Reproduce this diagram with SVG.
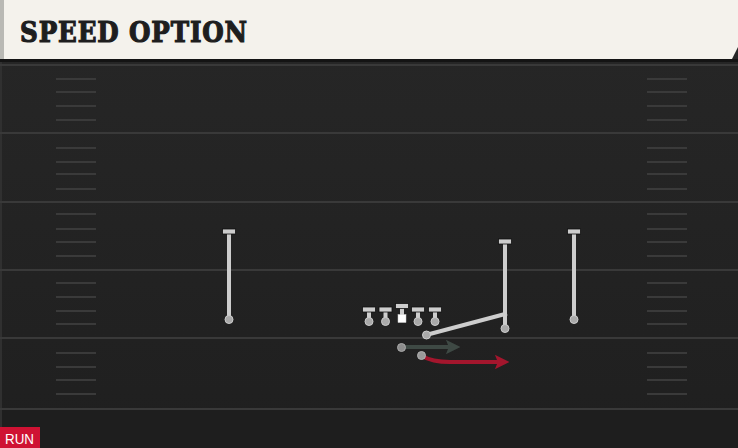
<svg xmlns="http://www.w3.org/2000/svg" width="738" height="448" viewBox="0 0 738 448">
<defs>
<linearGradient id="fieldGrad" x1="0" y1="0" x2="0" y2="1">
<stop offset="0" stop-color="#272727"/>
<stop offset="1" stop-color="#1f1f1f"/>
</linearGradient>
<marker id="arrowDark" viewBox="0 0 10 10" refX="7" refY="5" markerWidth="3.6" markerHeight="3.6" orient="auto" markerUnits="strokeWidth">
<path d="M0,0 L10,5 L0,10 L2,5 Z" fill="#3e4944"/>
</marker>
<marker id="arrowRed" viewBox="0 0 10 10" refX="7" refY="5" markerWidth="3.6" markerHeight="3.6" orient="auto" markerUnits="strokeWidth">
<path d="M0,0 L10,5 L0,10 L2,5 Z" fill="#a3162d"/>
</marker>
</defs>
<style>
.yard{stroke:#393939;stroke-width:2}
.hash{stroke:#3a3a3a;stroke-width:2}
.route{stroke:#cdcdcd;stroke-width:4;fill:none;stroke-linecap:butt}
.bar{fill:#cdcdcd;stroke:#111;stroke-width:0.8}
.dot{fill:#a9a9a9;stroke:#cdcdcd;stroke-width:1}
.title{font-family:"DejaVu Serif","Liberation Serif",serif;font-weight:bold;font-size:28px;fill:#1e1e1e;stroke:#1e1e1e;stroke-width:1.2;letter-spacing:1px}
.tag{font-family:"Liberation Sans","DejaVu Sans",sans-serif;font-size:14px;fill:#ffffff}
</style>

<!-- field -->
<rect x="0" y="0" width="738" height="448" fill="url(#fieldGrad)"/>
<rect x="0" y="409" width="738" height="39" fill="#1e1e1e"/>
<rect x="0" y="60" width="2" height="388" fill="#303030"/>
<g id="yardlines">
<line class="yard" x1="0" y1="65" x2="738" y2="65"/>
<line class="yard" x1="0" y1="133" x2="738" y2="133"/>
<line class="yard" x1="0" y1="202" x2="738" y2="202"/>
<line class="yard" x1="0" y1="270" x2="738" y2="270"/>
<line class="yard" x1="0" y1="338" x2="738" y2="338"/>
<line class="yard" x1="0" y1="409" x2="738" y2="409"/>
</g>
<g id="hashes">
<path class="hash" d="M56,79H96M56,92H96M56,106H96M56,120H96M56,148H96M56,162H96M56,174H96M56,189H96M56,214H96M56,229H96M56,242H96M56,256H96M56,283H96M56,297H96M56,311H96M56,324H96M56,353H96M56,367H96M56,380H96M56,394H96"/>
<path class="hash" d="M647,79H687M647,92H687M647,106H687M647,120H687M647,148H687M647,162H687M647,174H687M647,189H687M647,214H687M647,229H687M647,242H687M647,256H687M647,283H687M647,297H687M647,311H687M647,324H687M647,353H687M647,367H687M647,380H687M647,394H687"/>
</g>

<!-- header -->
<g id="header">
<rect x="0" y="59" width="738" height="3" fill="#141414"/>
<path d="M0,0 H738 V47 L732,59 H0 Z" fill="#f4f2ec"/>
<rect x="0" y="0" width="4" height="59" fill="#b9b9b4"/>
<text class="title" x="20" y="42" textLength="228" lengthAdjust="spacingAndGlyphs">SPEED OPTION</text>
</g>

<!-- connectors / routes -->
<g id="connectors">
<line class="route" x1="229" y1="233" x2="229" y2="319"/>
<line class="route" x1="505" y1="243" x2="505" y2="328"/>
<line class="route" x1="574" y1="233" x2="574" y2="319"/>
<line class="route" x1="426" y1="335" x2="507" y2="313.5"/>
<line x1="402" y1="347" x2="456" y2="347" stroke="#3e4944" stroke-width="4" marker-end="url(#arrowDark)"/>
<path d="M422,356 Q432,362 450,362 L505,362" fill="none" stroke="#a3162d" stroke-width="4" marker-end="url(#arrowRed)"/>
</g>

<!-- receivers -->
<g id="wr-left">
<rect class="bar" x="222.5" y="229" width="13" height="5"/>
<circle class="dot" cx="229" cy="319.5" r="4"/>
</g>
<g id="wr-mid">
<rect class="bar" x="498.5" y="239" width="13" height="5"/>
<circle class="dot" cx="505" cy="328.5" r="4"/>
</g>
<g id="wr-right">
<rect class="bar" x="567.5" y="229" width="13" height="5"/>
<circle class="dot" cx="574" cy="319.5" r="4"/>
</g>

<!-- offensive line -->
<g id="ol-1">
<line class="route" x1="369" y1="310" x2="369" y2="321"/>
<rect class="bar" x="362.5" y="307" width="13" height="5"/>
<circle class="dot" cx="369" cy="321.5" r="4"/>
</g>
<g id="ol-2">
<line class="route" x1="385.5" y1="310" x2="385.5" y2="321"/>
<rect class="bar" x="379" y="307" width="13" height="5"/>
<circle class="dot" cx="385.5" cy="321.5" r="4"/>
</g>
<g id="center">
<line class="route" x1="402" y1="306" x2="402" y2="315"/>
<rect class="bar" x="395.5" y="303.5" width="13" height="5"/>
<rect x="398" y="314.5" width="8" height="8" fill="#ffffff" stroke="#cfcfcf" stroke-width="0.5"/>
</g>
<g id="ol-4">
<line class="route" x1="418" y1="310" x2="418" y2="321"/>
<rect class="bar" x="411.5" y="307" width="13" height="5"/>
<circle class="dot" cx="418" cy="321.5" r="4"/>
</g>
<g id="ol-5">
<line class="route" x1="435" y1="310" x2="435" y2="321"/>
<rect class="bar" x="428.5" y="307" width="13" height="5"/>
<circle class="dot" cx="435" cy="321.5" r="4"/>
</g>

<!-- backs -->
<g id="qb">
<circle class="dot" cx="426.5" cy="335" r="4"/>
</g>
<g id="rb-dark">
<circle cx="401.5" cy="347.5" r="4" fill="#8d8d8d" stroke="#a9a9a9" stroke-width="1"/>
</g>
<g id="rb-red">
<circle cx="421.5" cy="355.5" r="4" fill="#9a9a9a" stroke="#b0b0b0" stroke-width="1"/>
</g>

<!-- run tag -->
<g id="run-tag">
<rect x="0" y="427" width="40" height="21" fill="#cf1233"/>
<text class="tag" x="5" y="444" textLength="29" lengthAdjust="spacingAndGlyphs">RUN</text>
</g>
</svg>
